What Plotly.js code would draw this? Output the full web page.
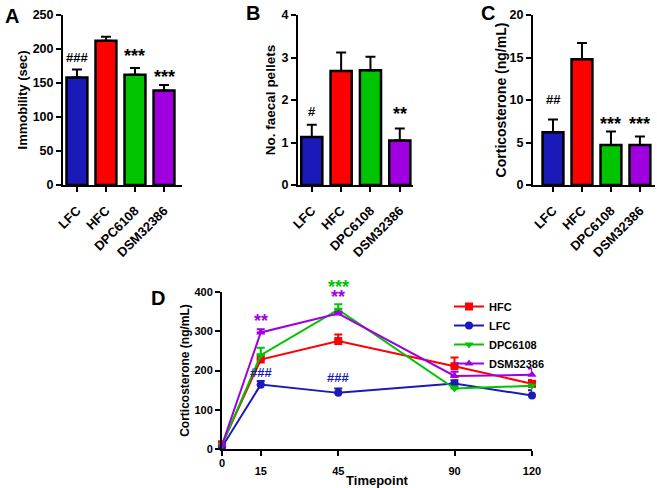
<!DOCTYPE html>
<html>
<head>
<meta charset="utf-8">
<script src="https://cdn.plot.ly/plotly-3.0.1.min.js"></script>
<style>
  html, body { margin: 0; padding: 0; background: #fff; }
  #chart { width: 657px; height: 488px; }
</style>
</head>
<body>
<div id="chart"></div>
<script>
// bar panels
var groups = ["LFC", "HFC", "DPC6108", "DSM32386"];
var barColors = ["#1a1ab8", "#ff0000", "#00c400", "#a000e0"];

var immobility = [158, 212, 162, 139];
var immobilityErr = [12, 6, 10, 8];
var pellets = [1.13, 2.68, 2.70, 1.05];
var pelletsErr = [0.29, 0.44, 0.32, 0.28];
var cort = [6.2, 14.8, 4.7, 4.7];
var cortErr = [1.5, 1.9, 1.6, 1.0];

// significance marks on bar panels
var sigA = ["###", "", "***", "***"];
var sigAy = [187, 0, 196, 165];
var sigB = ["#", "", "", "**"];
var sigBy = [1.72, 0, 0, 1.76];
var sigC = ["##", "", "***", "***"];
var sigCy = [10, 0, 7.6, 7.6];

// time course panel
var timepoints = [0, 15, 45, 90, 120];
var hfc = [12, 228, 275, 211, 166];
var hfcErr = [4, 11, 17, 22, 10];
var lfc = [5, 164, 143, 167, 136];
var lfcErr = [3, 9, 11, 8, 14];
var dpc = [10, 239, 355, 154, 161];
var dpcErr = [3, 19, 14, 5, 4];
var dsm = [10, 297, 345, 186, 189];
var dsmErr = [3, 8, 4, 11, 16];
var dMax = 400;

var sigD = ["**", "***", "**", "###", "###"];
var sigDx = [15, 45, 45, 15, 45];
var sigDy = [336, 423, 397, 194, 183];
var sigDcol = ["#a000e0", "#00c400", "#a000e0", "#1a1ab8", "#1a1ab8"];

var W = 657, H = 488;
var px = function (v) { return v / W; };
var py = function (v) { return 1 - v / H; };

var font = "Liberation Sans, Arial, sans-serif";
var bold = function (size, color) {
    return { family: font, size: size, color: color || "#000", weight: "bold" };
};

var barTrace = function (vals, errs, xa, ya) {
    return {
        type: "bar",
        x: groups,
        y: vals,
        xaxis: xa,
        yaxis: ya,
        width: 0.72,
        marker: { color: barColors, line: { color: "#000", width: 2.5 } },
        error_y: { type: "data", array: errs, arrayminus: errs.map(function () { return 0; }),
                   symmetric: false, color: "#000", thickness: 2, width: 5 },
        showlegend: false,
        hoverinfo: "none"
    };
};

var lineTrace = function (name, vals, errs, color, symbol) {
    return {
        type: "scatter",
        mode: "lines+markers",
        name: name,
        x: timepoints,
        y: vals,
        xaxis: "x4",
        yaxis: "y4",
        line: { color: color, width: 2 },
        marker: { color: color, symbol: symbol, size: 8 },
        error_y: { type: "data", array: errs, arrayminus: errs.map(function () { return 0; }),
                   symmetric: false, color: color, thickness: 2, width: 4 },
        cliponaxis: false
    };
};

var data = [
    barTrace(immobility, immobilityErr, "x", "y"),
    barTrace(pellets, pelletsErr, "x2", "y2"),
    barTrace(cort, cortErr, "x3", "y3"),
    lineTrace("HFC", hfc, hfcErr, "#ff0000", "square"),
    lineTrace("LFC", lfc, lfcErr, "#1a1ab8", "circle"),
    lineTrace("DPC6108", dpc, dpcErr, "#00c400", "triangle-down"),
    lineTrace("DSM32386", dsm, dsmErr, "#a000e0", "triangle-up")
];

var catAxis = function (dom, anchor, range) {
    return {
        domain: dom, anchor: anchor, range: range, type: "category",
        showline: true, linecolor: "#000", linewidth: 2,
        ticks: "outside", ticklen: 5, tickwidth: 2, tickcolor: "#000",
        tickangle: -45, tickfont: bold(13), ticklabelstandoff: 6,
        showgrid: false, zeroline: false, fixedrange: true
    };
};
var valAxis = function (dom, anchor, range, dtick, title, titleSize, standoff, tickSize) {
    return {
        domain: dom, anchor: anchor, range: range, dtick: dtick,
        showline: true, linecolor: "#000", linewidth: 2,
        ticks: "outside", ticklen: 5, tickwidth: 2, tickcolor: "#000",
        tickfont: bold(tickSize), showgrid: false, zeroline: false,
        title: { text: title, font: bold(titleSize), standoff: standoff },
        fixedrange: true
    };
};

var annotations = [];
var isStar = function (t) { return t.charAt(0) === "*"; };
var sigNote = function (t, x, y, xref, yref, color) {
    return { x: x, y: y, xref: xref, yref: yref, text: t, showarrow: false,
        xanchor: "center", yanchor: "middle",
        font: isStar(t) ? bold(18, color) : bold(13, color), yshift: isStar(t) ? -4 : 0 };
};
var addSig = function (texts, ys, xref, yref) {
    texts.forEach(function (t, i) {
        if (t === "") return;
        annotations.push(sigNote(t, groups[i], ys[i], xref, yref));
    });
};
addSig(sigA, sigAy, "x", "y");
addSig(sigB, sigBy, "x2", "y2");
addSig(sigC, sigCy, "x3", "y3");
sigD.forEach(function (t, i) {
    annotations.push(sigNote(t, sigDx[i], sigDy[i] / dMax, "x4", "y4 domain", sigDcol[i]));
});

// x label "0" of panel D sits a little higher than the others
annotations.push({ x: 0, y: py(463), xref: "x4", yref: "paper", text: "0",
    xanchor: "center", yanchor: "middle", showarrow: false, font: bold(11) });

var letters = [["A", 12, 16], ["B", 253, 13], ["C", 488, 13], ["D", 158, 298]];
letters.forEach(function (l) {
    annotations.push({ x: px(l[1]), y: py(l[2]), xref: "paper", yref: "paper", text: l[0],
        showarrow: false, xanchor: "center", yanchor: "middle", font: bold(20) });
});

var layout = {
    width: W, height: H,
    margin: { l: 0, r: 0, t: 0, b: 0 },
    paper_bgcolor: "#fff", plot_bgcolor: "#fff",
    xaxis: catAxis([px(63), px(182)], "y", [-0.48, 3.62]),
    yaxis: valAxis([py(185), py(15)], "x", [0, 250], 50, "Immobility (sec)", 13, 2, 12.5),
    xaxis2: catAxis([px(298), px(413)], "y2", [-0.47, 3.45]),
    yaxis2: valAxis([py(185), py(15)], "x2", [0, 4], 1, "No. faecal pellets", 13.5, 3, 12.5),
    xaxis3: catAxis([px(533), px(655)], "y3", [-0.69, 3.52]),
    yaxis3: valAxis([py(185), py(15)], "x3", [0, 20], 5, "Corticosterone (ng/mL)", 14, 0, 12.5),
    xaxis4: {
        domain: [px(222), px(532)], anchor: "y4", range: [0, 120],
        tickvals: timepoints, ticktext: ["", "15", "45", "90", "120"],
        showline: true, linecolor: "#000", linewidth: 2,
        ticks: "outside", ticklen: 5, tickwidth: 2, tickcolor: "#000",
        tickfont: bold(11), ticklabelstandoff: 6, showgrid: false, zeroline: false,
        title: { text: "Timepoint", font: bold(13), standoff: 0 },
        fixedrange: true
    },
    yaxis4: valAxis([py(449), py(292)], "x4", [0, dMax], 100, "Corticosterone (ng/mL)", 12, 2, 11),
    legend: {
        x: px(449), y: py(292), xanchor: "left", yanchor: "top",
        font: bold(11), bgcolor: "rgba(0,0,0,0)", tracegroupgap: 0, itemwidth: 30
    },
    annotations: annotations,
    showlegend: true
};

Plotly.newPlot("chart", data, layout, { displayModeBar: false, staticPlot: true });
</script>
</body>
</html>
